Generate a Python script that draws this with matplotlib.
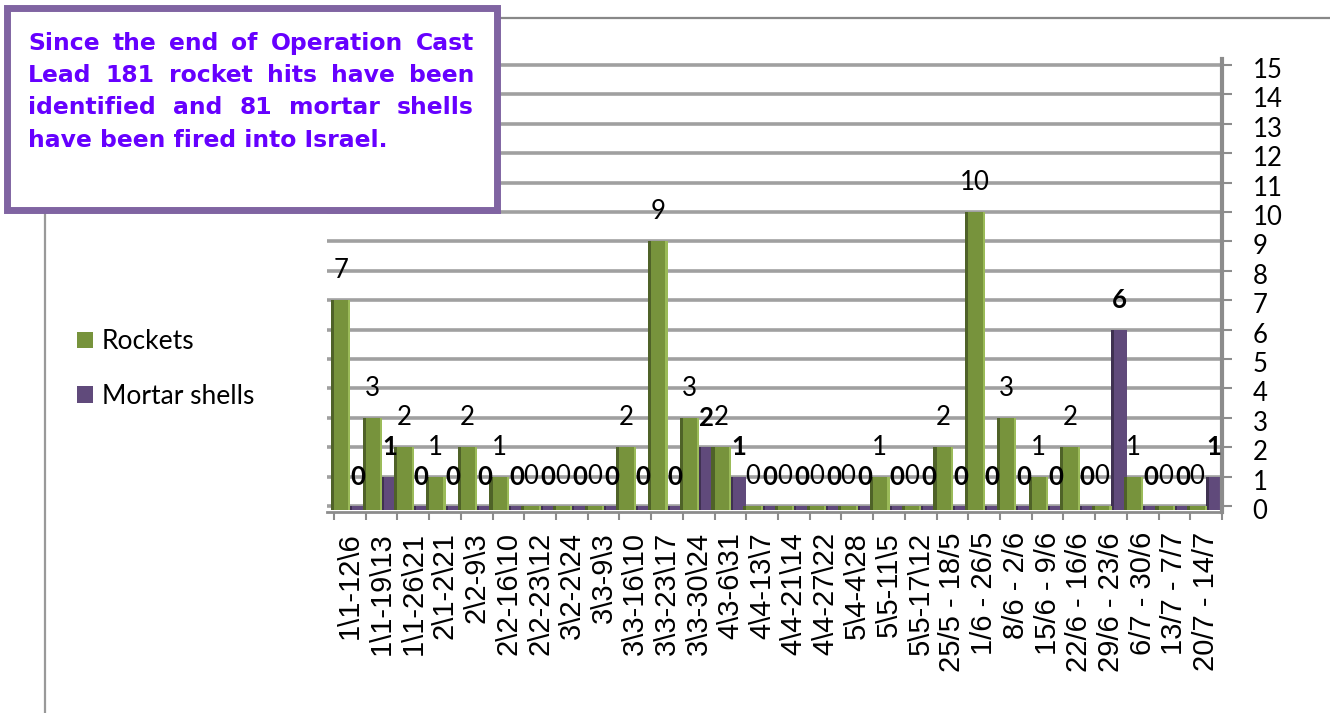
import matplotlib
matplotlib.use('Agg')
import matplotlib.pyplot as plt
import numpy as np
from matplotlib.patches import Rectangle, Patch
from matplotlib.lines import Line2D
from matplotlib.transforms import ScaledTranslation

# weekly periods as written on the chart
periods = [r'1\1-12\6', r'1\1-19\13', r'1\1-26\21', r'2\1-2\21', r'2\2-9\3',
           r'2\2-16\10', r'2\2-23\12', r'3\2-2\24', r'3\3-9\3', r'3\3-16\10',
           r'3\3-23\17', r'3\3-30\24', r'4\3-6\31', r'4\4-13\7', r'4\4-21\14',
           r'4\4-27\22', r'5\4-4\28', r'5\5-11\5', r'5\5-17\12', '25/5 - 18/5',
           '1/6 - 26/5', '8/6 - 2/6', '15/6 - 9/6', '22/6 - 16/6', '29/6 - 23/6',
           '6/7 - 30/6', '13/7 - 7/7', '20/7 - 14/7']
rockets = [7, 3, 2, 1, 2, 1, 0, 0, 0, 2, 9, 3, 2, 0, 0, 0, 0, 1, 0, 2, 10, 3, 1, 2, 0, 1, 0, 0]
mortars = [0, 1, 0, 0, 0, 0, 0, 0, 0, 0, 0, 2, 1, 0, 0, 0, 0, 0, 0, 0, 0, 0, 0, 0, 6, 0, 0, 1]
yticks = list(range(0, 16))

box_lines = ['Since the end of Operation Cast',
             'Lead 181 rocket hits have been',
             'identified and 81 mortar shells',
             'have been fired into Israel.']

GREEN, GREEN_D = '#77933c', '#4f6228'
PURPLE, PURPLE_D = '#604a7b', '#3f3151'
W, H = 1330, 713

fig = plt.figure(figsize=(W / 100, H / 100), dpi=100)
fig.patch.set_facecolor('white')

# chart-area border (only top and left visible in the crop)
fig.add_artist(Line2D([497 / W, 1.0], [1 - 18 / H, 1 - 18 / H], color='#888888', lw=1.6))
fig.add_artist(Line2D([45 / W, 45 / W], [0, 1 - 212 / H], color='#999999', lw=1.6))

# axes: category boundaries at integers, 0 -> y 506 px, 29.4 px per unit
ax = fig.add_axes([327 / W, 1 - 511.9 / H, (1222 - 327) / W, (511.9 - 59.1) / H])
ax.set_xlim(-0.22, 28)
ax.set_ylim(-0.2, 15.2)

x = np.arange(len(periods))
r = np.array(rockets)
m = np.array(mortars)

for v in yticks:
    ax.axhline(v, color='#a0a0a0', lw=2.6, zorder=1)

gw, pw = 0.62, 0.5
gx = x - 0.1
px = x + 0.5
ax.bar(gx, r + 0.15, bottom=-0.15, width=gw, align='edge', color=GREEN, zorder=3)
ax.bar(gx, r + 0.15, bottom=-0.15, width=0.1, align='edge', color=GREEN_D, zorder=3)
ax.bar(gx + gw - 0.07, r + 0.15, bottom=-0.15, width=0.07, align='edge', color='#9bbb59', zorder=3)
ax.bar(px, m + 0.15, bottom=-0.15, width=pw, align='edge', color=PURPLE, zorder=2)
ax.bar(px, m + 0.15, bottom=-0.15, width=0.08, align='edge', color=PURPLE_D, zorder=2)

for i in range(len(periods)):
    ax.text(gx[i] + gw / 2, r[i] + 1.0, str(rockets[i]), ha='center', va='center',
            fontsize=18.5, family='Lato', color='black', zorder=5)
    ax.text(px[i] + pw / 2, m[i] + 1.0, str(mortars[i]), ha='center', va='center',
            fontsize=18.5, family='Lato', fontweight='bold', color='black', zorder=5)

for s in ['top', 'left']:
    ax.spines[s].set_visible(False)
ax.spines['right'].set_color('#8c8c8c')
ax.spines['right'].set_linewidth(3)
ax.spines['bottom'].set_color('#8c8c8c')
ax.spines['bottom'].set_linewidth(2)

ax.yaxis.tick_right()
ax.set_yticks(yticks)
ax.set_yticklabels([str(v) for v in yticks], family='Lato', fontsize=18.5)
ax.tick_params(axis='y', length=7, width=1.5, color='#8c8c8c', pad=15)
for lab in ax.get_yticklabels():
    lab.set_transform(lab.get_transform() + ScaledTranslation(0, -3 / 100, fig.dpi_scale_trans))

ax.set_xticks(x + 0.5)
ax.set_xticklabels(periods, rotation=90, family='Liberation Sans', fontsize=21)
ax.set_xticks(np.arange(0, len(periods) + 1), minor=True)
ax.tick_params(axis='x', which='major', length=0, pad=14.5)
ax.tick_params(axis='x', which='minor', length=6, width=1.5, color='#8c8c8c')

# legend
handles = [Patch(facecolor=GREEN), Patch(facecolor=PURPLE)]
leg = fig.legend(handles, ['Rockets', 'Mortar shells'], loc='center left',
                 bbox_to_anchor=(77 / W, 1 - 369 / H), frameon=False,
                 prop={'family': 'Lato', 'size': 19}, handlelength=0.6,
                 handleheight=0.6, handletextpad=0.35, labelspacing=1.12,
                 borderpad=0, borderaxespad=0)

# annotation box
fig.add_artist(Rectangle((6.5 / W, 1 - 210 / H), 490 / W, 202.5 / H, transform=fig.transFigure,
                         facecolor='white', edgecolor='#8064a2', lw=5, zorder=10))

fig.canvas.draw()
rend = fig.canvas.get_renderer()
tcol = '#6600ff'
probe = fig.text(0, 0, box_lines[-1], fontsize=17, family='DejaVu Sans', fontweight='bold')
fs = 17 * 360 / probe.get_window_extent(rend).width
probe.remove()

x0, x1 = 28, 474
baselines = [50, 82, 114, 147]
for k, line in enumerate(box_lines):
    yb = 1 - baselines[k] / H
    if k == len(box_lines) - 1:
        fig.text(x0 / W, yb, line, fontsize=fs, family='DejaVu Sans', fontweight='bold',
                 color=tcol, va='baseline', zorder=11)
        continue
    words = line.split()
    ts = [fig.text(0, yb, w, fontsize=fs, family='DejaVu Sans', fontweight='bold',
                   color=tcol, va='baseline', zorder=11) for w in words]
    widths = [t.get_window_extent(rend).width for t in ts]
    gap = (x1 - x0 - sum(widths)) / (len(words) - 1)
    xp = x0
    for t, wd in zip(ts, widths):
        t.set_x(xp / W)
        xp += wd + gap

fig.savefig('out.png', dpi=100)
